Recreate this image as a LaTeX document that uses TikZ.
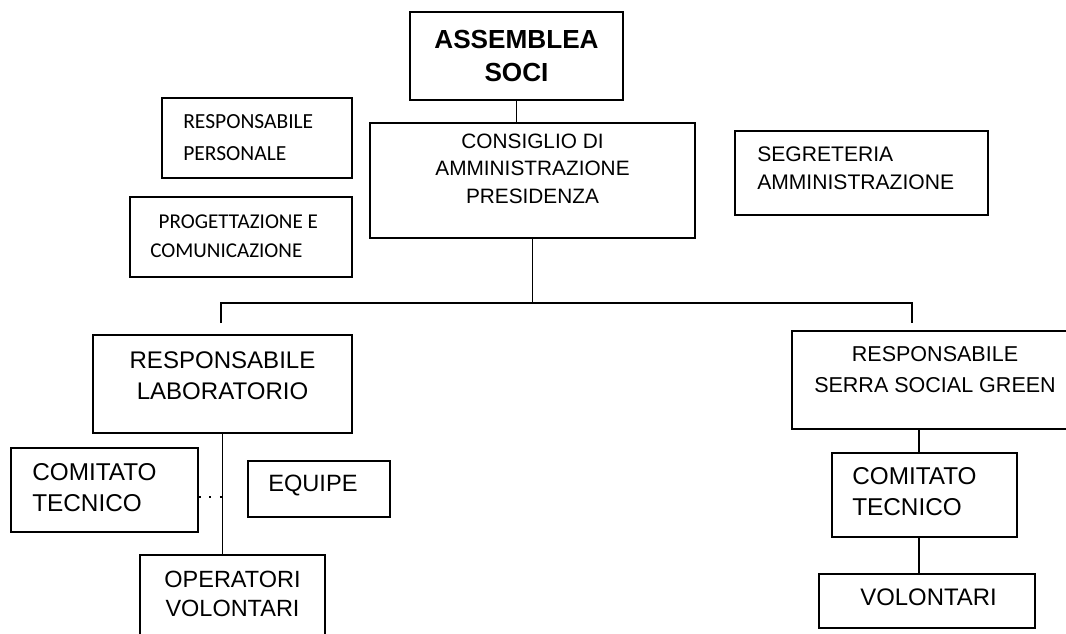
\documentclass[tikz,border=0pt]{standalone}
\usepackage{fontspec}
\setmainfont{Liberation Sans}
\newfontfamily\calib{Carlito}
\newcommand{\fsz}[2]{\fontsize{#1}{#2}\selectfont}
\tikzset{
  box/.style={draw, line width=0.9pt, inner sep=0pt},
  lbl/.style={inner sep=0pt, align=left},
  clbl/.style={inner sep=0pt, align=center},
  conn/.style={line width=0.9pt}
}
\begin{document}
\begin{tikzpicture}[x=0.025cm, y=-0.025cm]
        \useasboundingbox (0,0) rectangle (1066,633);
        \clip (0,0) rectangle (1066,633);
        % boxes
        \node[box, minimum width=5.325cm, minimum height=2.2cm] at (516.5,56) (asm) {};
        \node[box, minimum width=8.125cm, minimum height=2.875cm] at (532.5,180.5) (cda) {};
        \node[box, minimum width=4.75cm, minimum height=2cm] at (257,138) (rpers) {};
        \node[box, minimum width=5.55cm, minimum height=2cm] at (241,237) (prog) {};
        \node[box, minimum width=6.325cm, minimum height=2.1cm] at (861.5,173) (segr) {};
        \node[box, minimum width=6.475cm, minimum height=2.45cm] at (222.5,384) (rlab) {};
        \node[box, minimum width=4.675cm, minimum height=2.1cm] at (104.5,490) (ctl) {};
        \node[box, minimum width=3.55cm, minimum height=1.4cm] at (319,489) (equipe) {};
        \node[box, minimum width=4.625cm, minimum height=2.25cm] at (232.5,600) (opv) {};
        \node[box, minimum width=7.15cm, minimum height=2.45cm] at (935,380) (rserra) {};
        \node[box, minimum width=4.625cm, minimum height=2.1cm] at (924.5,495) (ctr) {};
        \node[box, minimum width=5.4cm, minimum height=1.35cm] at (927,601) (vol) {};
        % texts
        \node[clbl, font=\bfseries\fsz{18.6}{23.4}] at (516.5,56) (asmt) {ASSEMBLEA\\SOCI};
        \node[clbl, font=\fsz{14.8}{19.5}] at (532.5,168.5) (cdat) {CONSIGLIO DI\\AMMINISTRAZIONE\\PRESIDENZA};
        \node[lbl, anchor=west, font=\calib\fsz{15.3}{22.7}] at (183,138) (rperst) {RESPONSABILE\\PERSONALE};
        \node[lbl, anchor=west, font=\calib\fsz{15}{20.6}] at (150,236.5) (progt) {\hspace*{6pt}PROGETTAZIONE E\\COMUNICAZIONE};
        \node[lbl, anchor=west, font=\fsz{15}{20.2}] at (757,168) (segrt) {SEGRETERIA\\AMMINISTRAZIONE};
        \node[clbl, font=\fsz{17.1}{22.3}] at (222.5,376) (rlabt) {RESPONSABILE\\LABORATORIO};
        \node[lbl, anchor=west, font=\fsz{17.3}{22}] at (32,488) (ctlt) {COMITATO\\TECNICO};
        \node[lbl, anchor=west, font=\fsz{16.8}{22}] at (268,485) (equipet) {EQUIPE};
        \node[clbl, font=\fsz{16.7}{20.6}] at (232.5,594) (opvt) {OPERATORI\\VOLONTARI};
        \node[clbl, font=\fsz{15.3}{22}] at (935,370) (rserrat) {RESPONSABILE\\SERRA SOCIAL GREEN};
        \node[lbl, anchor=west, font=\fsz{17.3}{22}] at (852,491.5) (ctrt) {COMITATO\\TECNICO};
        \node[clbl, font=\fsz{17}{22}] at (928.5,597.5) (volt) {VOLONTARI};
        % connectors
        \coordinate (busl) at (221,303);
        \coordinate (busr) at (912,303);
        \coordinate (dropl) at (221,323);
        \coordinate (dropr) at (912,323);
        \coordinate (serrax) at (919,0);
        \coordinate (dotc) at (0,497);
        \draw[conn] (asm.south) -- (asm.south |- cda.north);
        \draw[conn] (cda.south) -- (cda.south |- busl);
        \draw[conn] (dropl) -- (busl) -- (busr) -- (dropr);
        \draw[conn] (rlab.south) -- (rlab.south |- opv.north);
        \draw[conn] (serrax |- rserra.south) -- (serrax |- ctr.north);
        \draw[conn] (serrax |- ctr.south) -- (serrax |- vol.north);
        \draw[conn, dash pattern=on 1.5pt off 6pt] (ctl.east |- dotc) -- (rlab.south |- dotc);
      \end{tikzpicture}
\end{document}
